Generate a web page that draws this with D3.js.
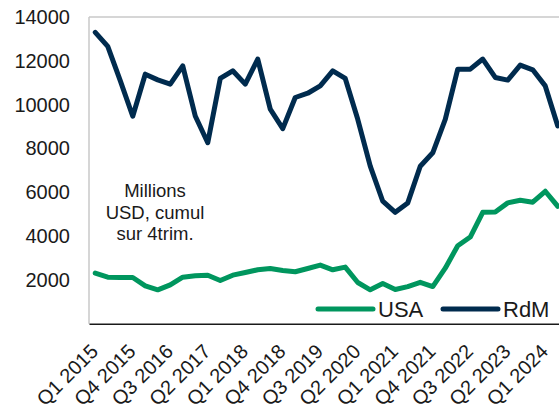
<!DOCTYPE html>
<html>
<head>
<meta charset="utf-8">
<script src="https://cdn.jsdelivr.net/npm/d3@7"></script>
<style>
  html, body { margin: 0; padding: 0; background: #ffffff; }
  svg { display: block; font-family: "Liberation Sans", Arial, sans-serif; }
</style>
</head>
<body>
<svg id="chart" width="559" height="411"></svg>
<script>
const categories = [
  "Q1 2015","Q2 2015","Q3 2015","Q4 2015",
  "Q1 2016","Q2 2016","Q3 2016","Q4 2016",
  "Q1 2017","Q2 2017","Q3 2017","Q4 2017",
  "Q1 2018","Q2 2018","Q3 2018","Q4 2018",
  "Q1 2019","Q2 2019","Q3 2019","Q4 2019",
  "Q1 2020","Q2 2020","Q3 2020","Q4 2020",
  "Q1 2021","Q2 2021","Q3 2021","Q4 2021",
  "Q1 2022","Q2 2022","Q3 2022","Q4 2022",
  "Q1 2023","Q2 2023","Q3 2023","Q4 2023",
  "Q1 2024","Q2 2024"
];
const usa = [2310, 2125, 2110, 2110, 1730, 1545, 1775, 2125, 2185, 2215, 1970, 2215, 2340, 2460, 2520, 2430, 2370, 2520, 2675, 2460, 2585, 1880, 1545, 1830, 1560, 1695, 1890, 1695, 2535, 3560, 3955, 5085, 5100, 5515, 5635, 5545, 6045, 5360];
const rdm = [13300, 12660, 11100, 9470, 11390, 11130, 10935, 11770, 9480, 8260, 11195, 11545, 10935, 12080, 9790, 8905, 10325, 10520, 10855, 11545, 11195, 9330, 7190, 5590, 5085, 5515, 7190, 7800, 9330, 11620, 11620, 12080, 11240, 11120, 11805, 11590, 10855, 9025];
const yTicks = [2000, 4000, 6000, 8000, 10000, 12000, 14000];
const xTickLabels = ["Q1 2015","Q4 2015","Q3 2016","Q2 2017","Q1 2018","Q4 2018","Q3 2019","Q2 2020","Q1 2021","Q4 2021","Q3 2022","Q2 2023","Q1 2024"];
const seriesNames = ["USA", "RdM"];
const seriesColors = ["#00965E", "#002B4E"];
const noteLines = ["Millions", "USD, cumul", "sur 4trim."];

const svg = d3.select("#chart");
const plot = { left: 89, top: 17, bottom: 323.7 };
plot.right = plot.left + 12.5 * categories.length;

const x = d3.scaleBand().domain(categories).range([plot.left, plot.right]).paddingInner(0).paddingOuter(0);
const y = d3.scaleLinear().domain([0, 14000]).range([plot.bottom, plot.top]);
const cx = c => x(c) + x.bandwidth() / 2;

svg.append("line").attr("x1", plot.left).attr("x2", plot.right).attr("y1", plot.top).attr("y2", plot.top)
  .attr("stroke", "#c8c8c8").attr("stroke-width", 1.5);
svg.append("line").attr("x1", plot.left).attr("x2", plot.left).attr("y1", plot.top).attr("y2", plot.bottom)
  .attr("stroke", "#c8c8c8").attr("stroke-width", 1.5);

const yAxis = d3.axisLeft(y).tickValues(yTicks).tickSize(0).tickPadding(19).tickFormat(d3.format("d"));
const gy = svg.append("g").attr("transform", `translate(${plot.left},0)`).call(yAxis);
gy.select(".domain").remove();
gy.selectAll("text").attr("font-size", "20px").attr("fill", "#1a1a1a").attr("font-family", "Liberation Sans, Arial, sans-serif");

const xAxis = d3.axisBottom(x).tickValues(xTickLabels).tickSize(0).tickFormat(d => d);
const gx = svg.append("g").attr("transform", `translate(0,${plot.bottom})`).call(xAxis);
gx.select(".domain").attr("stroke", "#1a1a1a").attr("stroke-width", 1.5);
gx.selectAll("text")
  .attr("font-size", "20px").attr("fill", "#1a1a1a").attr("font-family", "Liberation Sans, Arial, sans-serif")
  .attr("text-anchor", "end")
  .attr("dy", null).attr("y", null)
  .attr("transform", "translate(4,29) rotate(-45)");

const line = d3.line().x((d, i) => cx(categories[i])).y(d => y(d)).curve(d3.curveLinear);
[usa, rdm].forEach((s, k) => {
  svg.append("path").datum(s).attr("d", line)
    .attr("fill", "none").attr("stroke", seriesColors[k]).attr("stroke-width", 5)
    .attr("stroke-linejoin", "round").attr("stroke-linecap", "round");
});

const note = svg.append("text").attr("text-anchor", "middle").attr("font-size", "18.5px").attr("fill", "#1a1a1a");
noteLines.forEach((t, i) => {
  note.append("tspan").attr("x", 155).attr("y", 197 + i * 21.5).text(t);
});

const legendX = [318, 443];
seriesNames.forEach((n, k) => {
  svg.append("line").attr("x1", legendX[k]).attr("x2", legendX[k] + 55).attr("y1", 309).attr("y2", 309)
    .attr("stroke", seriesColors[k]).attr("stroke-width", 5).attr("stroke-linecap", "round");
  svg.append("text").attr("x", legendX[k] + 60).attr("y", 316.5).attr("font-size", "22px").attr("fill", "#1a1a1a").text(n);
});
</script>
</body>
</html>
